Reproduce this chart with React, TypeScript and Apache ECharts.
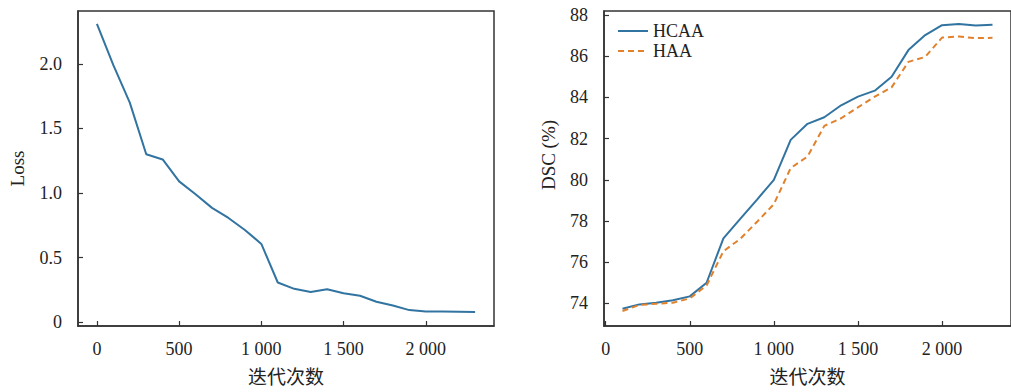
import React, { useEffect, useRef } from "react";
import * as echarts from "echarts";

const lossIters = [0, 100, 200, 300, 400, 500, 600, 700, 800, 900, 1000, 1100, 1200, 1300, 1400, 1500, 1600, 1700, 1800, 1900, 2000, 2100, 2200, 2300];
const lossValues = [2.31, 1.99, 1.7, 1.3, 1.26, 1.09, 0.99, 0.885, 0.807, 0.714, 0.606, 0.307, 0.258, 0.234, 0.254, 0.223, 0.204, 0.158, 0.129, 0.093, 0.083, 0.083, 0.081, 0.079];

const dscIters = [100, 200, 300, 400, 500, 600, 700, 800, 900, 1000, 1100, 1200, 1300, 1400, 1500, 1600, 1700, 1800, 1900, 2000, 2100, 2200, 2300];
const hcaaValues = [73.74, 73.95, 74.03, 74.15, 74.34, 75.0, 77.16, 78.1, 79.04, 80.0, 81.94, 82.72, 83.04, 83.62, 84.04, 84.33, 85.01, 86.3, 87.03, 87.51, 87.57, 87.49, 87.53];
const haaValues = [73.63, 73.92, 73.98, 74.03, 74.24, 74.87, 76.53, 77.13, 77.96, 78.82, 80.57, 81.13, 82.62, 82.99, 83.52, 84.04, 84.49, 85.73, 85.97, 86.91, 86.96, 86.88, 86.9];

const xTicks = [0, 500, 1000, 1500, 2000];
const lossTicks = [0, 0.5, 1.0, 1.5, 2.0];
const dscTicks = [74, 76, 78, 80, 82, 84, 86, 88];

const xLabel = "迭代次数";
const lossLabel = "Loss";
const dscLabel = "DSC (%)";
const seriesNames = ["HCAA", "HAA"];

const FONT = "'Liberation Serif', 'Times New Roman', 'Noto Sans CJK SC', serif";
const TXT = "#222";
const AX = "#333";
const BLUE = "#3274a1";
const ORANGE = "#e1812c";

const fmtThousands = (v: number) => {
  const s = String(Math.round(v));
  return s.length > 3 ? s.slice(0, s.length - 3) + " " + s.slice(-3) : s;
};

export default function App() {
  const ref = useRef<HTMLDivElement>(null);
  useEffect(() => {
    if (!ref.current) return;
    const chart = echarts.init(ref.current, null, { renderer: "svg" });
    const axisCommon = {
      axisLine: { show: true, onZero: false, lineStyle: { color: AX, width: 1.5 } },
      axisTick: { show: true, inside: true, length: 5, lineStyle: { color: AX, width: 1.2 } },
      splitLine: { show: false },
    };
    const labelStyle = { color: TXT, fontFamily: FONT, fontSize: 18 };
    chart.setOption({
      animation: false,
      backgroundColor: "#fff",
      textStyle: { fontFamily: FONT },
      grid: [
        { left: 78, top: 11, width: 416, height: 316, show: true, borderColor: AX, borderWidth: 1.5, backgroundColor: "transparent" },
        { left: 604, top: 11, width: 416, height: 316, show: true, borderColor: AX, borderWidth: 1.5, backgroundColor: "transparent" },
      ],
      legend: {
        show: true,
        orient: "vertical",
        left: 612,
        top: 16,
        itemWidth: 30,
        itemHeight: 14,
        itemGap: 0,
        data: seriesNames,
        itemStyle: { opacity: 0 },
        textStyle: { color: TXT, fontFamily: FONT, fontSize: 18, lineHeight: 20 },
      },
      xAxis: [
        {
          type: "value", gridIndex: 0, min: -115, max: 2415,
          ...axisCommon,
          axisTick: { ...axisCommon.axisTick, customValues: xTicks },
          axisLabel: { ...labelStyle, margin: 14, customValues: xTicks, formatter: fmtThousands },
          name: xLabel, nameLocation: "middle", nameGap: 42,
          nameTextStyle: { color: TXT, fontFamily: FONT, fontSize: 19 },
        },
        {
          type: "value", gridIndex: 1, min: -10, max: 2410,
          ...axisCommon,
          axisTick: { ...axisCommon.axisTick, customValues: xTicks },
          axisLabel: { ...labelStyle, margin: 14, customValues: xTicks, formatter: fmtThousands },
          name: xLabel, nameLocation: "middle", nameGap: 42,
          nameTextStyle: { color: TXT, fontFamily: FONT, fontSize: 19 },
        },
      ],
      yAxis: [
        {
          type: "value", gridIndex: 0, min: -0.03, max: 2.41,
          ...axisCommon,
          axisTick: { ...axisCommon.axisTick, customValues: lossTicks },
          axisLabel: { ...labelStyle, margin: 16, customValues: lossTicks, formatter: (v: number) => (v === 0 ? "0" : v.toFixed(1)) },
          name: lossLabel, nameLocation: "middle", nameGap: 51, nameRotate: 90,
          nameTextStyle: { color: TXT, fontFamily: FONT, fontSize: 19 },
        },
        {
          type: "value", gridIndex: 1, min: 72.9, max: 88.2,
          ...axisCommon,
          axisTick: { ...axisCommon.axisTick, customValues: dscTicks },
          axisLabel: { ...labelStyle, margin: 16, customValues: dscTicks, formatter: (v: number) => String(Math.round(v)) },
        },
      ],
      graphic: [
        {
          type: "text",
          x: 548,
          y: 155,
          rotation: Math.PI / 2,
          style: { text: dscLabel, fill: TXT, font: `19px ${FONT}`, align: "center", verticalAlign: "middle" },
        },
      ],
      series: [
        {
          type: "line", name: "Loss", xAxisIndex: 0, yAxisIndex: 0,
          data: lossIters.map((x, i) => [x, lossValues[i]]),
          symbol: "none", lineStyle: { color: BLUE, width: 2 }, itemStyle: { color: BLUE },
        },
        {
          type: "line", name: seriesNames[0], xAxisIndex: 1, yAxisIndex: 1,
          data: dscIters.map((x, i) => [x, hcaaValues[i]]),
          symbol: "none", lineStyle: { color: BLUE, width: 2 }, itemStyle: { color: BLUE },
        },
        {
          type: "line", name: seriesNames[1], xAxisIndex: 1, yAxisIndex: 1,
          data: dscIters.map((x, i) => [x, haaValues[i]]),
          symbol: "none", lineStyle: { color: ORANGE, width: 2, type: [6, 4] }, itemStyle: { color: ORANGE },
        },
      ],
    });
    return () => chart.dispose();
  }, []);
  return <div ref={ref} style={{ position: "fixed", left: 0, top: 0, width: 1011, height: 392 }} />;
}
